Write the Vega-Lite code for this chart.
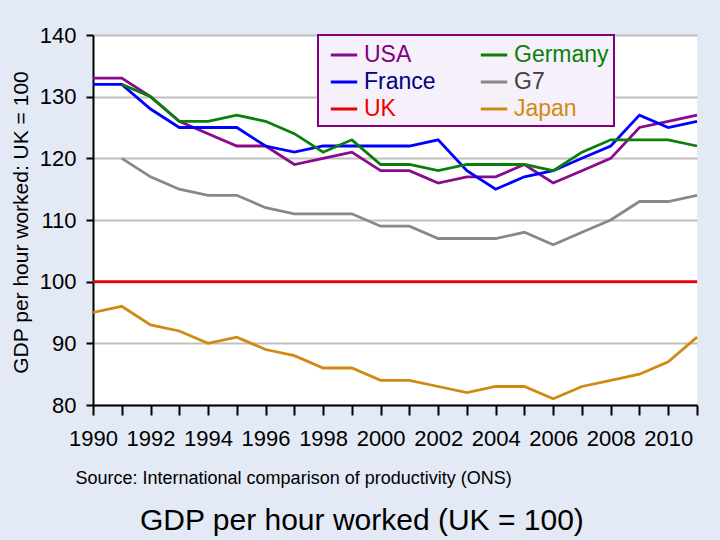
{
  "$schema": "https://vega.github.io/schema/vega-lite/v6.json",
  "width": 604,
  "height": 370,
  "autosize": "none",
  "padding": {"left": 93, "top": 35, "right": 23, "bottom": 135},
  "background": "#e3e9f5",
  "config": {
    "font": "Liberation Sans",
    "view": {"fill": "white", "stroke": null}
  },
  "title": {
    "text": "GDP per hour worked (UK = 100)",
    "orient": "bottom",
    "anchor": "start",
    "frame": "group",
    "baseline": "top",
    "dx": 47,
    "offset": 19,
    "fontSize": 30,
    "fontWeight": "normal",
    "color": "black"
  },
  "data": {
    "values": [
      {"year": 1990, "country": "USA", "value": 133}, {"year": 1991, "country": "USA", "value": 133},
      {"year": 1992, "country": "USA", "value": 130}, {"year": 1993, "country": "USA", "value": 126},
      {"year": 1994, "country": "USA", "value": 124}, {"year": 1995, "country": "USA", "value": 122},
      {"year": 1996, "country": "USA", "value": 122}, {"year": 1997, "country": "USA", "value": 119},
      {"year": 1998, "country": "USA", "value": 120}, {"year": 1999, "country": "USA", "value": 121},
      {"year": 2000, "country": "USA", "value": 118}, {"year": 2001, "country": "USA", "value": 118},
      {"year": 2002, "country": "USA", "value": 116}, {"year": 2003, "country": "USA", "value": 117},
      {"year": 2004, "country": "USA", "value": 117}, {"year": 2005, "country": "USA", "value": 119},
      {"year": 2006, "country": "USA", "value": 116}, {"year": 2007, "country": "USA", "value": 118},
      {"year": 2008, "country": "USA", "value": 120}, {"year": 2009, "country": "USA", "value": 125},
      {"year": 2010, "country": "USA", "value": 126}, {"year": 2011, "country": "USA", "value": 127},

      {"year": 1990, "country": "France", "value": 132}, {"year": 1991, "country": "France", "value": 132},
      {"year": 1992, "country": "France", "value": 128}, {"year": 1993, "country": "France", "value": 125},
      {"year": 1994, "country": "France", "value": 125}, {"year": 1995, "country": "France", "value": 125},
      {"year": 1996, "country": "France", "value": 122}, {"year": 1997, "country": "France", "value": 121},
      {"year": 1998, "country": "France", "value": 122}, {"year": 1999, "country": "France", "value": 122},
      {"year": 2000, "country": "France", "value": 122}, {"year": 2001, "country": "France", "value": 122},
      {"year": 2002, "country": "France", "value": 123}, {"year": 2003, "country": "France", "value": 118},
      {"year": 2004, "country": "France", "value": 115}, {"year": 2005, "country": "France", "value": 117},
      {"year": 2006, "country": "France", "value": 118}, {"year": 2007, "country": "France", "value": 120},
      {"year": 2008, "country": "France", "value": 122}, {"year": 2009, "country": "France", "value": 127},
      {"year": 2010, "country": "France", "value": 125}, {"year": 2011, "country": "France", "value": 126},

      {"year": 1990, "country": "UK", "value": 100}, {"year": 1991, "country": "UK", "value": 100},
      {"year": 1992, "country": "UK", "value": 100}, {"year": 1993, "country": "UK", "value": 100},
      {"year": 1994, "country": "UK", "value": 100}, {"year": 1995, "country": "UK", "value": 100},
      {"year": 1996, "country": "UK", "value": 100}, {"year": 1997, "country": "UK", "value": 100},
      {"year": 1998, "country": "UK", "value": 100}, {"year": 1999, "country": "UK", "value": 100},
      {"year": 2000, "country": "UK", "value": 100}, {"year": 2001, "country": "UK", "value": 100},
      {"year": 2002, "country": "UK", "value": 100}, {"year": 2003, "country": "UK", "value": 100},
      {"year": 2004, "country": "UK", "value": 100}, {"year": 2005, "country": "UK", "value": 100},
      {"year": 2006, "country": "UK", "value": 100}, {"year": 2007, "country": "UK", "value": 100},
      {"year": 2008, "country": "UK", "value": 100}, {"year": 2009, "country": "UK", "value": 100},
      {"year": 2010, "country": "UK", "value": 100}, {"year": 2011, "country": "UK", "value": 100},

      {"year": 1991, "country": "Germany", "value": 132}, {"year": 1992, "country": "Germany", "value": 130},
      {"year": 1993, "country": "Germany", "value": 126}, {"year": 1994, "country": "Germany", "value": 126},
      {"year": 1995, "country": "Germany", "value": 127}, {"year": 1996, "country": "Germany", "value": 126},
      {"year": 1997, "country": "Germany", "value": 124}, {"year": 1998, "country": "Germany", "value": 121},
      {"year": 1999, "country": "Germany", "value": 123}, {"year": 2000, "country": "Germany", "value": 119},
      {"year": 2001, "country": "Germany", "value": 119}, {"year": 2002, "country": "Germany", "value": 118},
      {"year": 2003, "country": "Germany", "value": 119}, {"year": 2004, "country": "Germany", "value": 119},
      {"year": 2005, "country": "Germany", "value": 119}, {"year": 2006, "country": "Germany", "value": 118},
      {"year": 2007, "country": "Germany", "value": 121}, {"year": 2008, "country": "Germany", "value": 123},
      {"year": 2009, "country": "Germany", "value": 123}, {"year": 2010, "country": "Germany", "value": 123},
      {"year": 2011, "country": "Germany", "value": 122},

      {"year": 1991, "country": "G7", "value": 120}, {"year": 1992, "country": "G7", "value": 117},
      {"year": 1993, "country": "G7", "value": 115}, {"year": 1994, "country": "G7", "value": 114},
      {"year": 1995, "country": "G7", "value": 114}, {"year": 1996, "country": "G7", "value": 112},
      {"year": 1997, "country": "G7", "value": 111}, {"year": 1998, "country": "G7", "value": 111},
      {"year": 1999, "country": "G7", "value": 111}, {"year": 2000, "country": "G7", "value": 109},
      {"year": 2001, "country": "G7", "value": 109}, {"year": 2002, "country": "G7", "value": 107},
      {"year": 2003, "country": "G7", "value": 107}, {"year": 2004, "country": "G7", "value": 107},
      {"year": 2005, "country": "G7", "value": 108}, {"year": 2006, "country": "G7", "value": 106},
      {"year": 2007, "country": "G7", "value": 108}, {"year": 2008, "country": "G7", "value": 110},
      {"year": 2009, "country": "G7", "value": 113}, {"year": 2010, "country": "G7", "value": 113},
      {"year": 2011, "country": "G7", "value": 114},

      {"year": 1990, "country": "Japan", "value": 95}, {"year": 1991, "country": "Japan", "value": 96},
      {"year": 1992, "country": "Japan", "value": 93}, {"year": 1993, "country": "Japan", "value": 92},
      {"year": 1994, "country": "Japan", "value": 90}, {"year": 1995, "country": "Japan", "value": 91},
      {"year": 1996, "country": "Japan", "value": 89}, {"year": 1997, "country": "Japan", "value": 88},
      {"year": 1998, "country": "Japan", "value": 86}, {"year": 1999, "country": "Japan", "value": 86},
      {"year": 2000, "country": "Japan", "value": 84}, {"year": 2001, "country": "Japan", "value": 84},
      {"year": 2002, "country": "Japan", "value": 83}, {"year": 2003, "country": "Japan", "value": 82},
      {"year": 2004, "country": "Japan", "value": 83}, {"year": 2005, "country": "Japan", "value": 83},
      {"year": 2006, "country": "Japan", "value": 81}, {"year": 2007, "country": "Japan", "value": 83},
      {"year": 2008, "country": "Japan", "value": 84}, {"year": 2009, "country": "Japan", "value": 85},
      {"year": 2010, "country": "Japan", "value": 87}, {"year": 2011, "country": "Japan", "value": 91}
    ]
  },
  "mark": {"type": "line", "strokeWidth": 2.8},
  "encoding": {
    "x": {
      "field": "year",
      "type": "quantitative",
      "scale": {"domain": [1990, 2011], "nice": false, "zero": false},
      "axis": {
        "title": "Source: International comparison of productivity (ONS)",
        "titleFontSize": 18,
        "titleFontWeight": "normal",
        "titleColor": "black",
        "titleAnchor": "start",
        "titleAlign": "left",
        "titleBaseline": "middle",
        "titleX": -18,
        "titleY": 73,
        "values": [1990, 1991, 1992, 1993, 1994, 1995, 1996, 1997, 1998, 1999, 2000, 2001, 2002, 2003, 2004, 2005, 2006, 2007, 2008, 2009, 2010, 2011],
        "labelExpr": "datum.value % 2 == 0 ? format(datum.value, 'd') : ''",
        "labelOverlap": false,
        "labelFlush": false,
        "labelFontSize": 22,
        "labelColor": "black",
        "labelPadding": 13,
        "tickSize": 10,
        "tickWidth": 2,
        "tickColor": "black",
        "domainColor": "black",
        "domainWidth": 2,
        "grid": false
      }
    },
    "y": {
      "field": "value",
      "type": "quantitative",
      "scale": {"domain": [80, 140], "nice": false, "zero": false},
      "axis": {
        "title": "GDP per hour worked: UK = 100",
        "titleFontSize": 21,
        "titleFontWeight": "normal",
        "titleColor": "black",
        "titleAngle": -90,
        "titleAlign": "center",
        "titleBaseline": "middle",
        "titleX": -72,
        "titleY": 187,
        "values": [80, 90, 100, 110, 120, 130, 140],
        "labelFontSize": 22,
        "labelColor": "black",
        "labelPadding": 10,
        "tickSize": 7,
        "tickWidth": 2,
        "tickColor": "black",
        "domainColor": "black",
        "domainWidth": 2,
        "grid": true,
        "gridColor": "#c0c0c0",
        "gridWidth": 2
      }
    },
    "color": {
      "field": "country",
      "type": "nominal",
      "scale": {
        "domain": ["USA", "France", "UK", "Germany", "G7", "Japan"],
        "range": ["#8b0a8b", "#0000ff", "#ee0000", "#0a800a", "#888888", "#d08a12"]
      },
      "legend": {
        "title": null,
        "orient": "none",
        "legendX": 225,
        "legendY": 0,
        "columns": 2,
        "columnPadding": 37,
        "rowPadding": -2.5,
        "padding": 5,
        "symbolOffset": 6,
        "fillColor": "#f5f0fa",
        "strokeColor": "#800080",
        "symbolType": "stroke",
        "symbolSize": 700,
        "symbolStrokeWidth": 3,
        "labelFontSize": 23,
        "labelOffset": 5,
        "labelLimit": 200,
        "encode": {
          "legend": {
            "update": {"strokeWidth": {"value": 2}}
          },
          "labels": {
            "update": {
              "fill": {"signal": "datum.value === 'USA' ? '#800080' : datum.value === 'France' ? '#000080' : datum.value === 'UK' ? '#ee0000' : datum.value === 'Germany' ? '#0a800a' : datum.value === 'G7' ? '#404040' : '#d08a12'"}
            }
          }
        }
      }
    }
  }
}
